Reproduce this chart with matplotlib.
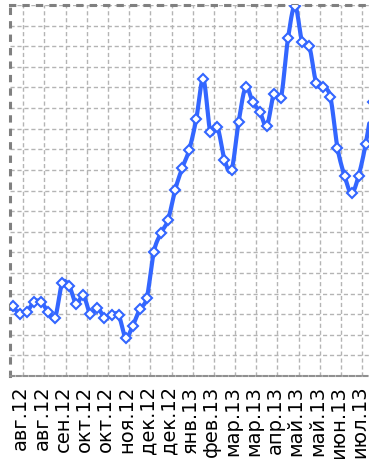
import numpy as np
import matplotlib.pyplot as plt
from matplotlib.transforms import ScaledTranslation

# weekly series, one value per week
values = [3.41, 3.01, 3.11, 3.59, 3.61, 3.12, 2.83, 4.50, 4.37, 3.50,
          3.92, 3.01, 3.32, 2.83, 2.96, 2.96, 1.86, 2.43, 3.24, 3.80,
          6.03, 6.93, 7.57, 9.02, 10.08, 10.97, 12.46, 14.40, 11.83, 12.07,
          10.49, 10.00, 12.32, 14.01, 13.29, 12.83, 12.14, 13.69, 13.51, 16.39,
          17.96, 16.21, 16.01, 14.21, 14.01, 13.53, 11.08, 9.72, 8.87, 9.72,
          11.26, 13.30]

tick_labels = ['авг.12', 'авг.12', 'сен.12', 'окт.12', 'окт.12', 'ноя.12',
               'дек.12', 'дек.12', 'янв.13', 'фев.13', 'мар.13', 'мар.13',
               'апр.13', 'май.13', 'май.13', 'июн.13', 'июл.13']


def smooth_curve(y, steps=20):
    # Catmull-Rom spline through the points (same look as "smoothed line")
    pts = np.column_stack([np.arange(len(y), dtype=float), y])
    padded = np.vstack([pts[0], pts, pts[-1]])
    t = np.linspace(0, 1, steps, endpoint=False)[:, None]
    parts = []
    for i in range(1, len(padded) - 2):
        p0, p1, p2, p3 = padded[i - 1:i + 3]
        seg = 0.5 * (2 * p1 + (p2 - p0) * t
                     + (2 * p0 - 5 * p1 + 4 * p2 - p3) * t ** 2
                     + (3 * p1 - p0 - 3 * p2 + p3) * t ** 3)
        parts.append(seg)
    parts.append(pts[-1:])
    c = np.vstack(parts)
    return c[:, 0], c[:, 1]


fig = plt.figure(figsize=(3.69, 4.59), dpi=100)
ax = fig.add_axes([10 / 369, 83 / 459, 1 - 10 / 369, 371 / 459])

x = np.arange(len(values))
sx, sy = smooth_curve(np.array(values))
blue = '#3366ff'
ax.plot(sx, sy, color=blue, lw=3, solid_capstyle='round', zorder=3)
ax.plot(x, values, ls='none', marker='D', ms=5, mfc='white', mec=blue,
        mew=1.5, zorder=4)

ax.set_xlim(-0.38, 50.47)
ax.set_ylim(0, 18)

ticks = 1.5 + 3 * np.arange(len(tick_labels))
ax.set_xticks(ticks)
ax.set_xticklabels(tick_labels, rotation=90, fontsize=14, family='DejaVu Sans')
ax.set_yticks(np.arange(0, 19))
ax.set_yticklabels([])
ax.tick_params(length=0)
ax.tick_params(axis='x', pad=7)

# labels sit a little left of their gridlines
shift = ScaledTranslation(-2.5 / 100, 0, fig.dpi_scale_trans)
for lbl in ax.get_xticklabels():
    lbl.set_transform(lbl.get_transform() + shift)

ax.grid(True, color='#b4b4b4', lw=1.0, ls=(0, (3, 2)))
ax.set_axisbelow(True)

ax.spines['right'].set_visible(False)
for side in ('left', 'top'):
    ax.spines[side].set_color('#808080')
    ax.spines[side].set_linewidth(2.2)
    ax.spines[side].set_linestyle((0, (1.4, 3.0)))
ax.spines['bottom'].set_color('#909090')
ax.spines['bottom'].set_linewidth(1.5)
ax.spines['bottom'].set_linestyle((0, (2, 1.2)))

fig.savefig('out.png', dpi=100)
